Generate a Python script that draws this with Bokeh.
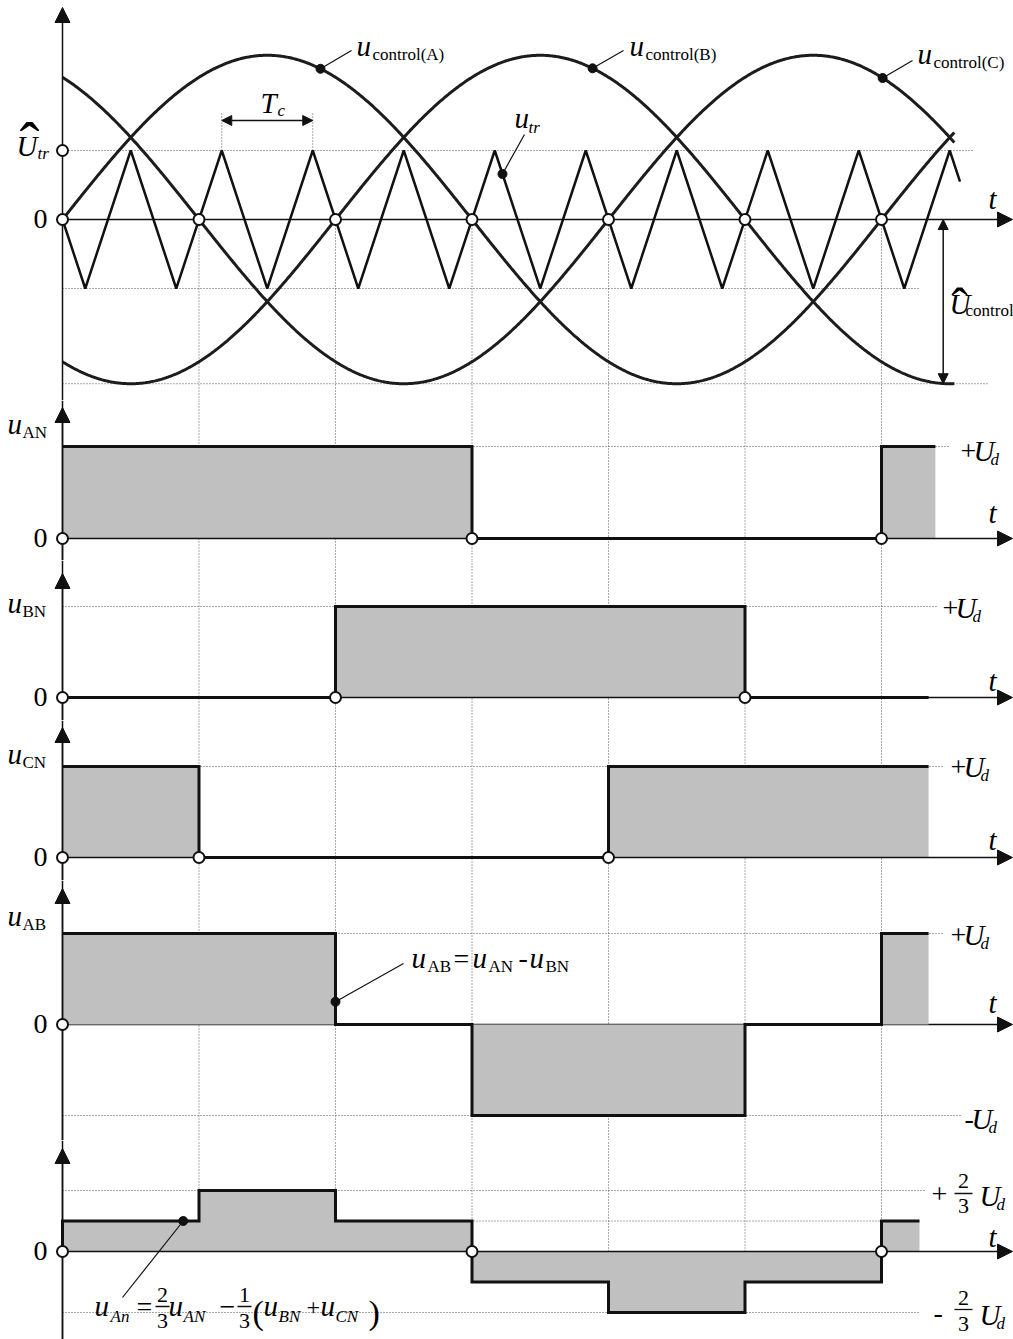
import numpy as np
from bokeh.plotting import figure
from bokeh.layouts import column
from bokeh.models import Range1d, Arrow, NormalHead, Span
from bokeh.core.properties import value
from bokeh.embed import file_html
from bokeh.resources import INLINE

# ---------------- data (time axis in electrical degrees) ----------------
control_phase_deg = [0, -120, 120]        # A, B, C
control_amplitude = 2.38                  # U_control peak in units of U_tr peak
control_end_deg = 392.0

carrier_t = [0, 10, 30, 50, 70, 90, 110, 130, 150, 170, 190, 210, 230, 250,
             270, 290, 310, 330, 350, 370, 390, 394.5]
carrier_v = [0, -1, 1, -1, 1, -1, 1, -1, 1, -1, 1, -1, 1, -1,
             1, -1, 1, -1, 1, -1, 1, 0.55]

crossings_deg = [0, 60, 120, 180, 240, 300, 360]
tc_start_deg, tc_end_deg = 70, 110

uAN_t = [0, 180, 360, 383.7]
uAN_v = [1, 0, 1, 1]
uBN_t = [0, 120, 300, 380.7]
uBN_v = [0, 1, 0, 0]
uCN_t = [0, 60, 240, 380.7]
uCN_v = [1, 0, 1, 1]
uAB_t = [0, 120, 180, 300, 360, 380.7]
uAB_v = [1, 0, -1, 0, 1, 1]
uAn_t = [0, 0, 60, 120, 180, 240, 300, 360, 376.7]
uAn_v = [0, 1/3, 2/3, 1/3, -1/3, -2/3, -1/3, 1/3, 1/3]

zero_marks = {
    "AN": [0, 180, 360],
    "BN": [0, 120, 300],
    "CN": [0, 60, 240],
    "AB": [0],
    "An": [0, 180, 360],
}

# ---------------- layout / style ----------------
W = 1013
X0_PX, PX_PER_DEG = 62.0, 2.275
INK = "#111111"
GRIDC = "#555555"
FILL = "#c0c0c0"
SERIF = value("Liberation Serif")
BASE_SHIFT = 0.34   # empirical correction of the alphabetic baseline (fraction of font size)
MAIN = 29           # size of the italic symbols u, U, t, T
SUB = 17            # subscript size


def X(px):
    return (px - X0_PX) / PX_PER_DEG


class Panel:
    def __init__(self, top, bottom, zero, scale, tip):
        self.top, self.bottom, self.zero, self.scale, self.tip = top, bottom, zero, scale, tip
        self.fig = figure(width=W, height=bottom - top,
                          x_range=Range1d(X(0), X(W)),
                          y_range=Range1d(self.Y(bottom), self.Y(top)),
                          output_backend="svg", toolbar_location=None,
                          x_axis_type=None, y_axis_type=None, min_border=0,
                          outline_line_color=None, background_fill_color="white",
                          border_fill_color="white")

    def Y(self, py):
        return (self.zero - py) / self.scale

    def text(self, px, py, s, size=MAIN, italic=False, align="left"):
        yy = py - BASE_SHIFT * size
        self.fig.text(x=[X(px)], y=[self.Y(yy)], text=[s], text_font=SERIF,
                      text_font_size=f"{size}px",
                      text_font_style="italic" if italic else "normal",
                      text_align=align, text_baseline="alphabetic", text_color="black")

    def frac(self, cx, py_num, py_den, py_bar, half, num, den, size=22):
        self.text(cx, py_num, num, size, align="center")
        self.text(cx, py_den, den, size, align="center")
        self.fig.segment(x0=[X(cx - half)], y0=[self.Y(py_bar)], x1=[X(cx + half)],
                         y1=[self.Y(py_bar)], line_color=INK, line_width=1.3)


def head(size):
    return NormalHead(size=size, fill_color=INK, line_color=INK, line_width=1)


def axes(P, h_level="annotation"):
    p = P.fig
    if P.top > 0:
        p.add_layout(Span(location=0, dimension="height", line_color=INK, line_width=1.5))
    p.add_layout(Arrow(x_start=0, y_start=P.Y(P.bottom), x_end=0, y_end=P.Y(P.tip),
                       end=head(15), line_color=INK, line_width=1.5))
    p.add_layout(Arrow(x_start=0, y_start=0, x_end=X(1012), y_end=0, end=head(15),
                       line_color=INK, line_width=1.5, level=h_level))


def hlevels(P, levels, ends_px):
    P.fig.segment(x0=[0] * len(levels), y0=levels, x1=[X(e) for e in ends_px], y1=levels,
                  line_color=GRIDC, line_width=1, line_dash="1 2")


def vgrid(P, y0, y1):
    g = crossings_deg[1:]
    P.fig.segment(x0=g, y0=[y0] * len(g), x1=g, y1=[y1] * len(g),
                  line_color=GRIDC, line_width=1, line_dash="1 2")


def open_marks(P, xs, ys):
    r = P.fig.scatter(xs, ys, size=11, fill_color="white", line_color=INK, line_width=2)
    r.level = "overlay"


def dot_leader(P, x, y, px_end, py_end):
    P.fig.segment(x0=[x], y0=[y], x1=[X(px_end)], y1=[P.Y(py_end)], line_color=INK, line_width=1.2)
    r = P.fig.scatter([x], [y], size=9, fill_color=INK, line_color=INK)
    r.level = "overlay"


def step_wave(P, t, v):
    p = P.fig
    p.varea_step(x=t, y1=[0] * len(t), y2=v, step_mode="after", fill_color=FILL)
    p.step(x=t, y=v, mode="after", line_width=3, line_color=INK, line_join="miter")


def label_0(P):
    P.text(47, P.zero + 9.5, "0", 28, align="right")


def label_t(P, py):
    P.text(988, py, "t", MAIN, italic=True)


def label_u(P, py, sub):
    P.text(7, py, "u", MAIN, italic=True)
    P.text(22, py + 5, sub, SUB)


def label_Ud(P, px, py, sign):
    P.text(px, py, sign, 28)
    du = 13 if sign == "+" else 7
    P.text(px + du, py, "U", MAIN, italic=True)
    P.text(px + du + 17, py + 5, "d", SUB, italic=True)


# ---------------- panel 1: control voltages and carrier ----------------
P1 = Panel(0, 400, 219, 69.0, 7)
p = P1.fig
vgrid(P1, 0, P1.Y(400))
hlevels(P1, [1, -1, -control_amplitude], [972, 918, 987])
p.segment(x0=[tc_start_deg, tc_end_deg], y0=[1, 1], x1=[tc_start_deg, tc_end_deg],
          y1=[P1.Y(111), P1.Y(111)], line_color=GRIDC, line_width=1, line_dash="1 2")
p.add_layout(Arrow(x_start=tc_start_deg, y_start=P1.Y(120), x_end=tc_end_deg, y_end=P1.Y(120),
                   start=head(10), end=head(10), line_color=INK, line_width=1.5))

theta = np.linspace(0, control_end_deg, 800)
ctrl = []
for ph in control_phase_deg:
    f = lambda th, ph=ph: control_amplitude * np.sin(np.radians(np.asarray(th) + ph))
    ctrl.append(f)
    p.line(theta, f(theta), line_width=3, line_color="#1c1c1c")
p.line(carrier_t, carrier_v, line_width=2.5, line_color=INK)

p.add_layout(Arrow(x_start=X(942.7), y_start=0, x_end=X(942.7), y_end=-control_amplitude,
                   start=head(10), end=head(10), line_color=INK, line_width=1.5))
axes(P1)

dot_leader(P1, 113.4, float(ctrl[0](113.4)), 351, 50)
dot_leader(P1, 233.0, float(ctrl[1](233.0)), 623, 50)
dot_leader(P1, 360.5, float(ctrl[2](360.5)), 912, 60)
dot_leader(P1, 193.4, float(np.interp(193.4, carrier_t, carrier_v)), 524, 134)
open_marks(P1, crossings_deg + [0], [0] * len(crossings_deg) + [1])

label_0(P1)
P1.text(16, 155, "U", MAIN, italic=True)
P1.text(37, 159, "tr", SUB, italic=True)
P1.text(29, 163, "ˆ", 60, align="center")
label_t(P1, 208)
P1.text(260, 112, "T", MAIN, italic=True)
P1.text(277, 116, "c", SUB, italic=True)
P1.text(514, 127, "u", MAIN, italic=True)
P1.text(528, 133, "tr", SUB, italic=True)
P1.text(356, 55, "u", MAIN, italic=True)
P1.text(372, 60, "control(A)", SUB)
P1.text(629, 55, "u", MAIN, italic=True)
P1.text(645, 60, "control(B)", SUB)
P1.text(917, 63, "u", MAIN, italic=True)
P1.text(933, 68, "control(C)", SUB)
P1.text(949, 313, "U", MAIN, italic=True)
P1.text(965, 316, "control", SUB)
P1.text(959, 322, "ˆ", 50, align="center")

# ---------------- panel 2: u_AN ----------------
P2 = Panel(400, 560, 538, 92.0, 407)
vgrid(P2, P2.Y(560), P2.Y(400))
hlevels(P2, [1], [950])
step_wave(P2, uAN_t, uAN_v)
axes(P2)
open_marks(P2, zero_marks["AN"], [0] * 3)
label_0(P2)
label_u(P2, 433, "AN")
label_Ud(P2, 960, 460, "+")
label_t(P2, 522)

# ---------------- panel 3: u_BN ----------------
P3 = Panel(560, 720, 697, 91.0, 573)
vgrid(P3, P3.Y(720), P3.Y(560))
hlevels(P3, [1], [936])
step_wave(P3, uBN_t, uBN_v)
axes(P3)
open_marks(P3, zero_marks["BN"], [0] * 3)
label_0(P3)
label_u(P3, 612, "BN")
label_Ud(P3, 942, 617, "+")
label_t(P3, 690)

# ---------------- panel 4: u_CN ----------------
P4 = Panel(720, 880, 857, 91.0, 727)
vgrid(P4, P4.Y(880), P4.Y(720))
hlevels(P4, [1], [942])
step_wave(P4, uCN_t, uCN_v)
axes(P4)
open_marks(P4, zero_marks["CN"], [0] * 3)
label_0(P4)
label_u(P4, 763, "CN")
label_Ud(P4, 950, 776, "+")
label_t(P4, 849)

# ---------------- panel 5: u_AB ----------------
P5 = Panel(880, 1140, 1024, 91.0, 888)
vgrid(P5, P5.Y(1140), P5.Y(880))
hlevels(P5, [1, -1], [942, 960])
axes(P5, h_level="underlay")
step_wave(P5, uAB_t, uAB_v)
open_marks(P5, zero_marks["AB"], [0])
dot_leader(P5, 120, 0.25, 403, 963)
label_0(P5)
label_u(P5, 925, "AB")
label_Ud(P5, 950, 944, "+")
label_Ud(P5, 964, 1128, "-")
label_t(P5, 1012)
P5.text(411, 967, "u", MAIN, italic=True)
P5.text(427, 972, "AB", SUB)
P5.text(453, 968, "=", 28)
P5.text(472, 967, "u", MAIN, italic=True)
P5.text(488, 972, "AN", SUB)
P5.text(518, 967, "-", 28)
P5.text(529, 967, "u", MAIN, italic=True)
P5.text(545, 972, "BN", SUB)

# ---------------- panel 6: u_An ----------------
P6 = Panel(1140, 1339, 1251, 91.5, 1148)
vgrid(P6, 0, P6.Y(1140))
hlevels(P6, [2/3, 1/3, -2/3], [925, 920, 920])
step_wave(P6, uAn_t, uAn_v)
axes(P6)
open_marks(P6, zero_marks["An"], [0] * 3)
dot_leader(P6, X(182.7), 1/3, 122, 1297)
label_0(P6)
label_t(P6, 1246)
P6.text(931, 1203, "+", 28)
P6.frac(963, 1188, 1213, 1193, 9, "2", "3")
P6.text(979, 1205, "U", MAIN, italic=True)
P6.text(996, 1210, "d", SUB, italic=True)
P6.text(933, 1322, "-", 28)
P6.frac(963, 1305, 1331, 1309, 9, "2", "3")
P6.text(979, 1324, "U", MAIN, italic=True)
P6.text(996, 1329, "d", SUB, italic=True)
# formula
P6.text(94, 1315, "u", MAIN, italic=True)
P6.text(110, 1322, "An", SUB, italic=True)
P6.text(136, 1316, "=", 28)
P6.frac(162, 1302, 1328, 1306, 7, "2", "3")
P6.text(168, 1315, "u", MAIN, italic=True)
P6.text(183, 1322, "AN", SUB, italic=True)
P6.text(219, 1316, "\u2212", 28)
P6.frac(244, 1302, 1328, 1306, 7, "1", "3")
P6.text(252, 1324, "(", 34)
P6.text(263, 1315, "u", MAIN, italic=True)
P6.text(278, 1322, "BN", SUB, italic=True)
P6.text(306, 1315, "+", 24)
P6.text(320, 1315, "u", MAIN, italic=True)
P6.text(335, 1322, "CN", SUB, italic=True)
P6.text(368, 1324, ")", 34)

layout = column(P1.fig, P2.fig, P3.fig, P4.fig, P5.fig, P6.fig, spacing=0)
open("out.html", "w").write(file_html(layout, INLINE))
